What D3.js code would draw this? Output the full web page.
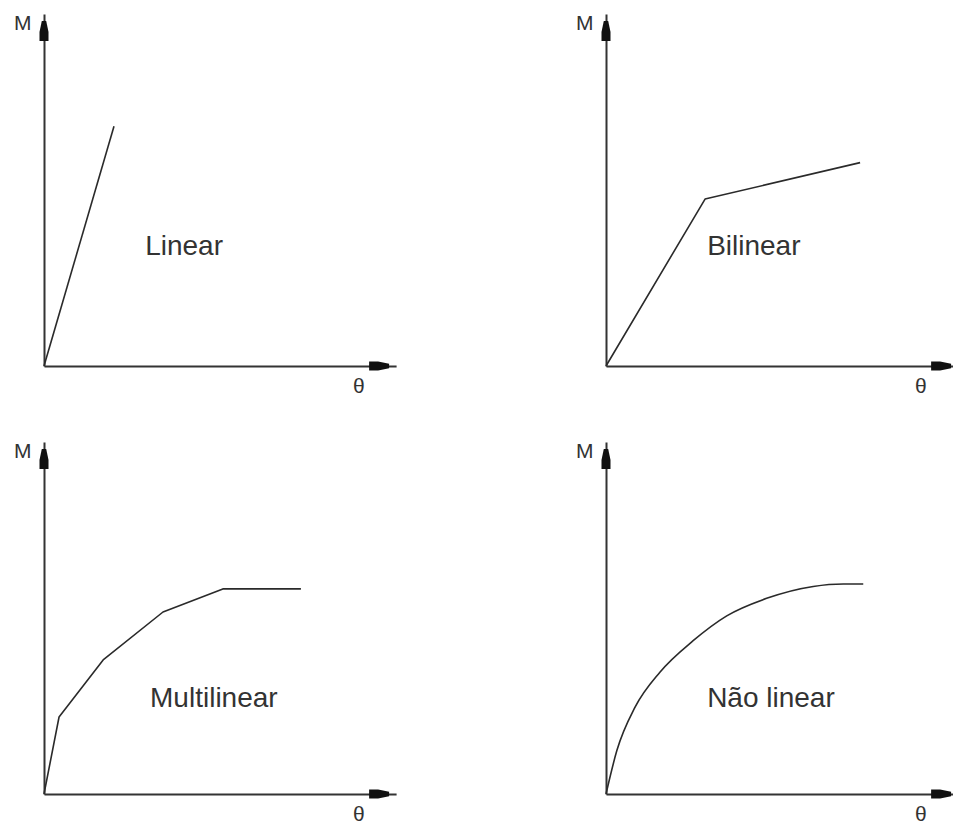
<!DOCTYPE html>
<html>
<head>
<meta charset="utf-8">
<script src="https://cdn.jsdelivr.net/npm/d3@7"></script>
<style>
  html, body { margin: 0; padding: 0; background: #fff; }
  svg { display: block; }
  text { font-family: "Liberation Sans", Arial, sans-serif; fill: #333; }
</style>
</head>
<body>
<svg id="chart" width="953" height="826"></svg>
<script>
// Moment–rotation (M–θ) relationship types
const panelTitles = ["Linear", "Bilinear", "Multilinear", "Não linear"];
const axisLabelY = "M";
const axisLabelX = "θ";

// Curve vertices, in (θ, M) units
const linearCurve = [[0, 0], [2.0, 6.85]];
const bilinearCurve = [[0, 0], [2.83, 4.77], [7.26, 5.81]];
const multilinearCurve = [[0, 0], [0.43, 2.2], [1.69, 3.83], [3.4, 5.2], [5.11, 5.86], [7.34, 5.86]];
const nonlinearCurve = [[0, 0], [0.31, 1.24], [0.83, 2.48], [1.54, 3.48], [2.49, 4.38],
                        [3.45, 5.09], [4.59, 5.59], [5.92, 5.93], [6.78, 6.0], [7.35, 6.0]];

const curves = [linearCurve, bilinearCurve, multilinearCurve, nonlinearCurve];
const smooth = [false, false, false, true];

// Axis extent in the same units
const axisMax = 10.06;

const svg = d3.select("#chart");

// Panel origins (grid 2 x 2)
const origins = [[44, 366], [606, 366], [44, 794], [606, 794]];
const labelOffsets = [[2.89, 3.17], [2.89, 3.17], [3.03, 2.49], [2.89, 2.49]];

const x = d3.scaleLinear().domain([0, 10]).range([0, 350]);
const y = d3.scaleLinear().domain([0, 10]).range([0, -350]);

const ink = "#333";

// Closed CAD-style arrowhead pointing along +d; (d, w) pairs
function arrowPoints(dEnd) {
  return [[-4.5, dEnd - 27], [4.5, dEnd - 27], [4.5, dEnd - 18], [2.2, dEnd - 7],
          [-2.2, dEnd - 7], [-4.5, dEnd - 18]];
}

curves.forEach((curve, i) => {
  const [ox, oy] = origins[i];
  const g = svg.append("g").attr("transform", `translate(${ox},${oy})`);

  // Axes via d3 axis generators without ticks
  const xAxisScale = d3.scaleLinear().domain([0, axisMax]).range([x(0), x(axisMax)]);
  const yAxisScale = d3.scaleLinear().domain([0, axisMax]).range([y(0), y(axisMax)]);

  const gx = g.append("g").call(d3.axisBottom(xAxisScale).tickValues([]).tickSizeOuter(0));
  const gy = g.append("g").call(d3.axisLeft(yAxisScale).tickValues([]).tickSizeOuter(0));
  [gx, gy].forEach(a => a.select(".domain").attr("stroke", ink).attr("stroke-width", 2));

  const tipX = x(axisMax), tipY = y(axisMax);
  // x-axis arrowhead
  g.append("polygon")
    .attr("points", arrowPoints(tipX).map(([w, d]) => [d, w]).join(" "))
    .attr("fill", "#111");
  // y-axis arrowhead
  g.append("polygon")
    .attr("points", arrowPoints(-tipY).map(([w, d]) => [w, -d]).join(" "))
    .attr("fill", "#111");

  // Axis labels
  g.append("text").attr("x", -30).attr("y", tipY + 16)
    .attr("font-size", 21).text(axisLabelY);
  g.append("text").attr("x", x(8.83)).attr("y", 27)
    .attr("font-size", 21).text(axisLabelX);

  // Curve
  const line = d3.line()
    .x(d => x(d[0]))
    .y(d => y(d[1]))
    .curve(smooth[i] ? d3.curveMonotoneX : d3.curveLinear);
  g.append("path")
    .datum(curve)
    .attr("d", line)
    .attr("fill", "none")
    .attr("stroke", "#2a2a2a")
    .attr("stroke-width", 1.6)
    .attr("stroke-linejoin", "round");

  // Type label
  const [lx, ly] = labelOffsets[i];
  g.append("text")
    .attr("x", x(lx)).attr("y", y(ly))
    .attr("font-size", 28)
    .text(panelTitles[i]);
});
</script>
</body>
</html>
